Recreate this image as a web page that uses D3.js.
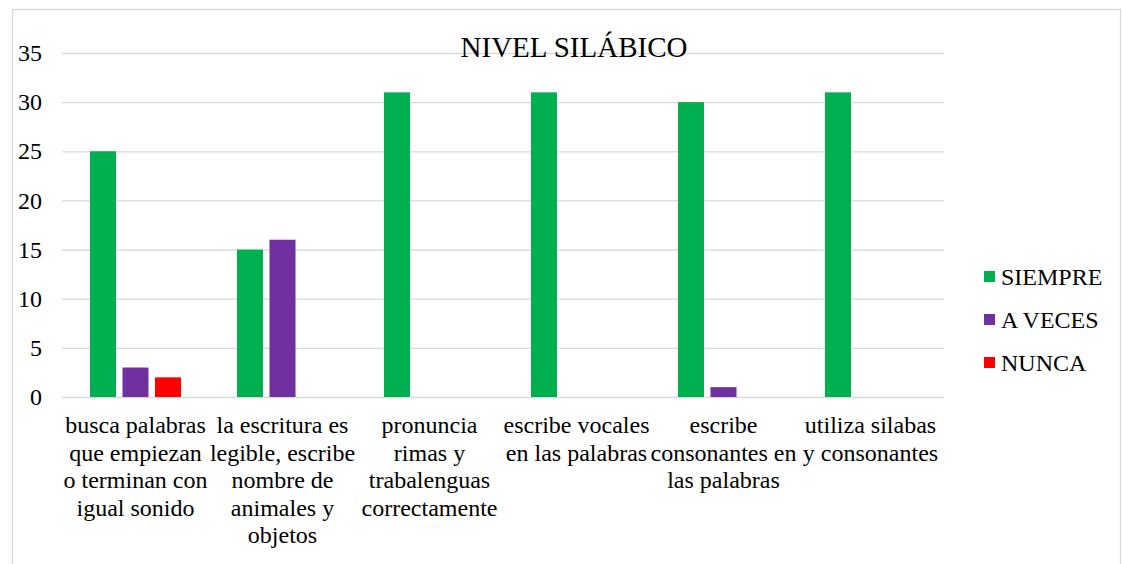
<!DOCTYPE html>
<html>
<head>
<meta charset="utf-8">
<script src="https://cdn.jsdelivr.net/npm/d3@7"></script>
<style>
  body { margin: 0; background: #fff; }
</style>
</head>
<body>
<svg id="graph" width="1122" height="564"></svg>
<script>
// Datos
const categories = [
  ["busca palabras", "que empiezan", "o terminan con", "igual sonido"],
  ["la escritura es", "legible, escribe", "nombre de", "animales y", "objetos"],
  ["pronuncia", "rimas y", "trabalenguas", "correctamente"],
  ["escribe vocales", "en las palabras"],
  ["escribe", "consonantes en", "las palabras"],
  ["utiliza silabas", "y consonantes"],
];
const series = ["SIEMPRE", "A VECES", "NUNCA"];
const siempre = [25, 15, 31, 31, 30, 31];
const aVeces = [3, 16, 0, 0, 1, 0];
const nunca = [2, 0, 0, 0, 0, 0];
const yTicks = [0, 5, 10, 15, 20, 25, 30, 35];
const colors = ["#00b050", "#7030a0", "#ff0000"];

const font = "'Liberation Serif', 'Times New Roman', serif";

const values = [siempre, aVeces, nunca];
const data = categories.map((c, i) => ({
  idx: i,
  lines: c,
  vals: series.map((s, j) => ({ serie: s, j: j, value: values[j][i] })),
}));

const svg = d3.select("#graph").style("font-family", font);
const margin = { top: 53, left: 62, right: 178, bottom: 167 };
const width = 1122;
const height = 564;

// borde del gráfico
svg.append("rect")
  .attr("x", 12.5).attr("y", 9.5)
  .attr("width", 1108).attr("height", 600)
  .attr("fill", "none").attr("stroke", "#d9d9d9").attr("stroke-width", 1.3);

const x0 = d3.scaleBand()
  .domain(d3.range(categories.length))
  .range([margin.left, width - margin.right]);

const x1 = d3.scaleBand()
  .domain(d3.range(series.length))
  .range([0, x0.bandwidth()])
  .paddingInner(0.2)
  .paddingOuter(0.86);

const y = d3.scaleLinear().domain([0, 35]).range([height - margin.bottom, margin.top]);

// grilla
const axisY = d3.axisLeft(y).tickValues(yTicks).tickSize(-(width - margin.right - margin.left)).tickPadding(20);
const gy = svg.append("g").attr("transform", `translate(${margin.left},0)`).call(axisY);
gy.attr("font-family", null).attr("font-size", null);
gy.select(".domain").remove();
gy.selectAll(".tick line").attr("stroke", "#d9d9d9").attr("stroke-width", 1.3);
gy.selectAll(".tick text")
  .attr("x", -20)
  .style("font-family", font)
  .style("font-size", "24px")
  .attr("fill", "#000");

// titulo
svg.append("text")
  .attr("x", 574).attr("y", 57)
  .attr("text-anchor", "middle")
  .style("font-family", font)
  .style("font-size", "29px")
  .text("NIVEL SILÁBICO");

// barras
const groups = svg.append("g").selectAll("g")
  .data(data)
  .join("g")
  .attr("transform", (d) => `translate(${x0(d.idx)},0)`);

groups.selectAll("rect")
  .data((d) => d.vals.filter((v) => v.value > 0))
  .join("rect")
  .attr("x", (d) => x1(d.j))
  .attr("width", x1.bandwidth())
  .attr("y", (d) => y(d.value))
  .attr("height", (d) => y(0) - y(d.value))
  .attr("fill", (d) => colors[d.j]);

// etiquetas de categorias
const labels = svg.append("g").selectAll("text")
  .data(data)
  .join("text")
  .attr("text-anchor", "middle")
  .style("font-family", font)
  .style("font-size", "24px")
  .attr("transform", (d) => `translate(${x0(d.idx) + x0.bandwidth() / 2},${y(0) + 36})`);

labels.selectAll("tspan")
  .data((d) => d.lines)
  .join("tspan")
  .attr("x", 0)
  .attr("y", (d, i) => i * 27.5)
  .text((d) => d);

// leyenda
const legend = svg.append("g").selectAll("g")
  .data(series)
  .join("g")
  .attr("transform", (d, i) => `translate(984,${285 + i * 43})`);

legend.append("rect")
  .attr("x", 0).attr("y", -14)
  .attr("width", 11).attr("height", 11)
  .attr("fill", (d, i) => colors[i]);

legend.append("text")
  .attr("x", 17).attr("y", 0)
  .style("font-family", font)
  .style("font-size", "24px")
  .text((d) => d);
</script>
</body>
</html>
